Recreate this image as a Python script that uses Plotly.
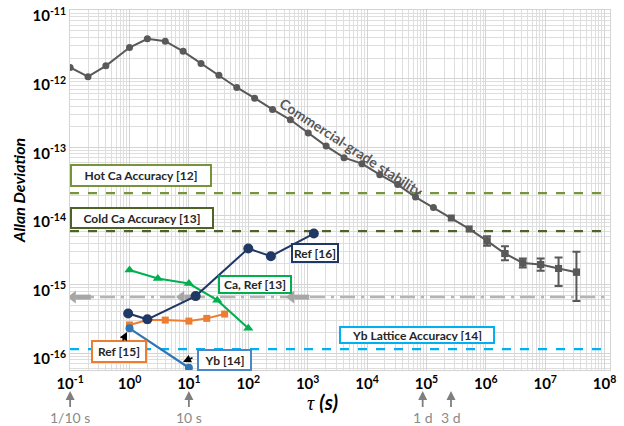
import numpy as np
import plotly.graph_objects as go

# ---------------- data ----------------
tau_com = [0.1, 0.2, 0.4, 1, 2, 4, 8, 16, 32, 64, 128, 256, 512, 1024, 2048, 4096,
           8192, 16384, 32768, 65536, 131072, 262144, 524288, 1048576, 2097152,
           4194304, 8388608, 16777216, 33554432]
adev_com = [1.46e-12, 1.07e-12, 1.54e-12, 2.85e-12, 3.81e-12, 3.52e-12, 2.51e-12,
            1.66e-12, 1.12e-12, 7.45e-13, 5.2e-13, 3.56e-13, 2.52e-13, 1.61e-13,
            1.04e-13, 7.06e-14, 5.77e-14, 3.99e-14, 2.86e-14, 1.88e-14, 1.32e-14,
            9.31e-15, 6.45e-15, 4.31e-15, 2.82e-15, 2.06e-15, 1.95e-15, 1.71e-15, 1.51e-15]
err_hi = [5.05e-15, 3.61e-15, 2.39e-15, 2.39e-15, 2.47e-15, 3.0e-15]
err_lo = [3.67e-15, 2.26e-15, 1.77e-15, 1.58e-15, 9.45e-16, 5.71e-16]
first_square = 21

tau_ca = [1, 3, 10, 30, 100]
adev_ca = [1.62e-15, 1.22e-15, 1.03e-15, 5.9e-16, 2.29e-16]

tau_ref16 = [0.95, 2, 13, 100, 240, 1270]
adev_ref16 = [3.76e-16, 3.1e-16, 6.76e-16, 3.34e-15, 2.58e-15, 5.52e-15]

tau_ref15 = [1, 2, 4, 10, 20, 40]
adev_ref15 = [2.56e-16, 3.02e-16, 3.02e-16, 2.92e-16, 3.2e-16, 3.7e-16]

tau_yb = [1, 10]
adev_yb = [2.29e-16, 6.1e-17]

hot_ca_level = 2.15e-14
cold_ca_level = 5.97e-15
yb_lattice_level = 1.14e-16
gray_level = 6.53e-16
gray_arrow_tau = [0.1, 6.7, 475]

time_marks_tau = [0.1, 10, 86400, 259200]
time_marks_txt = ["1/10 s", "10 s", "1 d", "3 d"]

x_tick_exp = list(range(-1, 9))
y_tick_exp = list(range(-16, -10))

# ---------------- figure ----------------
W, H = 624, 426
L, R, T, B = 70, 14, 10, 56
PW, PH = W - L - R, H - T - B
X_PER_DEC = 59.4
Y_PER_DEC = 68.6
x_range = [-1.002, -1 + PW / X_PER_DEC]
y_range = [-11 - PH / Y_PER_DEC, -10.998]
x_span = [10 ** x_range[0], 10 ** x_range[1]]


def px(x):
    return (x - L) / PW


def py(y):
    return (H - B - y) / PH


FONT = "Lato"
GRAY = "#595959"

fig = go.Figure()

# reference levels (horizontal lines across the axis range)
for lvl, col, dash, wd in [(hot_ca_level, "#77933c", "dash", 2.2),
                           (cold_ca_level, "#4f6228", "dash", 2.2),
                           (yb_lattice_level, "#00b0f0", "dash", 2.2),
                           (gray_level, "#b4b4b4", "longdashdot", 2.5)]:
    fig.add_trace(go.Scatter(x=x_span, y=[lvl, lvl], mode="lines",
                             line=dict(color=col, width=wd, dash=dash),
                             showlegend=False, hoverinfo="skip"))

# thick gray left arrows on the dash-dot level
arrow_len = 10 ** (15 / X_PER_DEC)
ax_x, ax_y = [], []
for t in gray_arrow_tau:
    ax_x += [t * 1.25, t * arrow_len * 1.25, None]
    ax_y += [gray_level, gray_level, None]
fig.add_trace(go.Scatter(x=ax_x, y=ax_y, mode="lines",
                         line=dict(color="#a6a6a6", width=5),
                         showlegend=False, hoverinfo="skip"))
fig.add_trace(go.Scatter(x=[t * 1.12 for t in gray_arrow_tau], y=[gray_level] * len(gray_arrow_tau),
                         mode="markers",
                         marker=dict(color="#a6a6a6", size=11, symbol="triangle-left"),
                         showlegend=False, hoverinfo="skip"))

# commercial-grade curve
fig.add_trace(go.Scatter(
    x=tau_com, y=adev_com, mode="lines+markers",
    line=dict(color=GRAY, width=2),
    marker=dict(color=GRAY, size=7,
                symbol=["circle"] * first_square + ["square"] * (len(tau_com) - first_square)),
    showlegend=False))
n_err = len(err_hi)
t_e = tau_com[-n_err:]
v_e = adev_com[-n_err:]
fig.add_trace(go.Scatter(
    x=t_e, y=v_e, mode="markers",
    marker=dict(color=GRAY, size=7, symbol="square"),
    error_y=dict(type="data", symmetric=False,
                 array=[h - v for h, v in zip(err_hi, v_e)],
                 arrayminus=[v - l for l, v in zip(err_lo, v_e)],
                 color=GRAY, thickness=2, width=4),
    showlegend=False))

# other series
fig.add_trace(go.Scatter(x=tau_ref15, y=adev_ref15, mode="lines+markers",
                         line=dict(color="#ed7d31", width=2),
                         marker=dict(color="#ed7d31", size=7, symbol="square"),
                         showlegend=False))
fig.add_trace(go.Scatter(x=tau_yb, y=adev_yb, mode="lines+markers",
                         line=dict(color="#2e75b6", width=2.2),
                         marker=dict(color="#2e75b6", size=8, symbol="circle"),
                         showlegend=False))
fig.add_trace(go.Scatter(x=tau_ca, y=adev_ca, mode="lines+markers",
                         line=dict(color="#00b050", width=2),
                         marker=dict(color="#00b050", size=9, symbol="triangle-up"),
                         showlegend=False))
fig.add_trace(go.Scatter(x=tau_ref16, y=adev_ref16, mode="lines+markers",
                         line=dict(color="#1f3864", width=2),
                         marker=dict(color="#1f3864", size=10, symbol="circle"),
                         showlegend=False))

ann = []

# label boxes (pixel centre, size, border colour)
boxes = [("Hot Ca Accuracy [12]", 141, 175.5, 142, 23, "#77933c"),
         ("Cold Ca Accuracy [13]", 142, 218, 144, 22, "#4f6228"),
         ("Ref [16]", 315, 253, 48, 20, "#1f3864"),
         ("Ca, Ref [13]", 255, 284, 74, 19, "#00b050"),
         ("Ref [15]", 119, 351.5, 56, 23, "#ed7d31"),
         ("Yb [14]", 224.5, 360, 55, 22, "#4a86c8"),
         ("Yb Lattice Accuracy [14]", 417, 335, 156, 18, "#00b0f0")]
for txt, cx, cy, w, h, col in boxes:
    ann.append(dict(text="<b>%s</b>" % txt, x=px(cx), y=py(cy), xref="paper", yref="paper",
                    xanchor="center", yanchor="middle", showarrow=False,
                    width=w - 6, height=h - 6, borderpad=1, borderwidth=2,
                    bordercolor=col, bgcolor="white",
                    font=dict(family=FONT, size=12, color="#262626")))

# small black pointer arrows
ann.append(dict(x=px(127), y=py(332), xref="paper", yref="paper", ax=-5, ay=10,
                showarrow=True, arrowhead=2, arrowsize=1, arrowwidth=1.6,
                arrowcolor="black", text=""))
ann.append(dict(x=px(183), y=py(362), xref="paper", yref="paper", ax=11, ay=-5,
                showarrow=True, arrowhead=2, arrowsize=1, arrowwidth=1.6,
                arrowcolor="black", text=""))

# time marks below the axis
for t, txt in zip(time_marks_tau, time_marks_txt):
    ann.append(dict(x=np.log10(t), y=py(391), xref="x", yref="paper", ax=0, ay=26,
                    showarrow=True, arrowhead=2, arrowsize=1, arrowwidth=1.8,
                    arrowcolor="#7f7f7f", text=txt,
                    font=dict(family=FONT, size=14, color="#8a8a8a")))

# rotated curve label
ann.append(dict(text="<b>Commercial-grade stability</b>", x=px(352), y=py(147),
                xref="paper", yref="paper", xanchor="center", yanchor="middle",
                showarrow=False, textangle=33,
                font=dict(family=FONT, size=14, color=GRAY)))

# axis titles
ann.append(dict(text="<b><i>Allan Deviation</i></b>", x=px(18), y=py(191),
                xref="paper", yref="paper", xanchor="center", yanchor="middle",
                showarrow=False, textangle=-90,
                font=dict(family=FONT, size=16, color="black")))
ann.append(dict(text="<span style='font-family:Liberation Serif'><i>τ</i></span> <b><i>(s)</i></b>",
                x=px(322), y=py(402), xref="paper", yref="paper",
                xanchor="center", yanchor="middle", showarrow=False,
                font=dict(family=FONT, size=20, color="black")))

minor_x = [k * 10.0 ** n for n in range(-1, 9) for k in range(2, 10)]
minor_y = [k * 10.0 ** n for n in range(-17, -11) for k in range(2, 10)]

axis_common = dict(type="log", showgrid=True, gridcolor="#d4d4d4", gridwidth=1,
                   showline=True, linecolor="#d4d4d4", mirror=True, zeroline=False,
                   ticks="", automargin=False, ticklabeloverflow="allow",
                   tickfont=dict(family=FONT, size=15, color="black", weight="bold"))

fig.update_layout(
    width=W, height=H, margin=dict(l=L, r=R, t=T, b=B, autoexpand=False),
    paper_bgcolor="white", plot_bgcolor="white",
    annotations=ann,
    xaxis=dict(range=x_range,
               tickvals=[10.0 ** e for e in x_tick_exp],
               ticktext=["10<sup>%d</sup>" % e for e in x_tick_exp],
               minor=dict(tickvals=minor_x, showgrid=True, gridcolor="#dedede", gridwidth=1),
               **axis_common),
    yaxis=dict(range=y_range,
               tickvals=[10.0 ** e for e in y_tick_exp],
               ticktext=["10<sup>%d</sup>" % e for e in y_tick_exp],
               ticklabelshift=6,
               minor=dict(tickvals=minor_y, showgrid=True, gridcolor="#dedede", gridwidth=1),
               **axis_common),
)

fig.write_html("out.html", config={"displayModeBar": False},
               post_script="document.body.style.margin='0';document.body.style.overflow='hidden';")
